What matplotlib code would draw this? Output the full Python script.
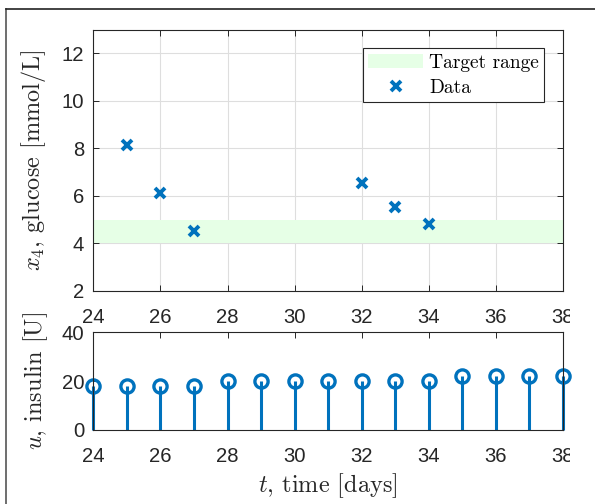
import matplotlib
matplotlib.use("Agg")
import matplotlib.pyplot as plt
from matplotlib.lines import Line2D
from matplotlib.patches import Patch
from matplotlib.transforms import Bbox, TransformedBbox

# ---- data ----
glucose_days = [25, 26, 27, 32, 33, 34]
glucose_vals = [8.15, 6.1, 4.5, 6.55, 5.55, 4.82]
target_low, target_high = 4.0, 5.0
insulin_days = [24, 25, 26, 27, 28, 29, 30, 31, 32, 33, 34, 35, 36, 37, 38]
insulin_vals = [18, 18, 18, 18, 20, 20, 20, 20, 20, 20, 20, 22, 22, 22, 22]
x_ticks = [24, 26, 28, 30, 32, 34, 36, 38]
top_yticks = [2, 4, 6, 8, 10, 12]
bot_yticks = [0, 20, 40]

plt.rcParams['mathtext.fontset'] = 'cm'
plt.rcParams['axes.unicode_minus'] = False

BLUE = '#0072BD'
TXT = '#262626'
W, H = 595, 504
fig = plt.figure(figsize=(W / 100, H / 100), dpi=100)

L, R = 93.4, 563.0

def px_axes(l, t, r, b):
    return fig.add_axes([l / W, 1 - b / H, (r - l) / W, (b - t) / H])

ax1 = px_axes(L, 29.7, R, 290.8)
ax2 = px_axes(L, 332.5, R, 429.8)

labfont = dict(family='cmr10', size=17.5)

for ax in (ax1, ax2):
    ax.set_xlim(24, 38)
    ax.set_xticks(x_ticks)
    ax.tick_params(direction='in', top=True, right=True, length=4, width=0.7,
                   colors=TXT, labelsize=14.6)
    ax.tick_params(axis='x', pad=12.4)
    ax.tick_params(axis='y', pad=6.5)
    for lab in ax.get_xticklabels() + ax.get_yticklabels():
        lab.set_fontfamily('Liberation Sans')
    for s in ax.spines.values():
        s.set_color(TXT)
        s.set_linewidth(0.8)

# top axes
ax1.set_ylim(2, 13)
ax1.set_yticks(top_yticks)
ax1.grid(True, color='#dedede', linewidth=0.8)
ax1.set_axisbelow(True)
ax1.axhspan(target_low, target_high, color='#e6ffe6', lw=0, zorder=1)
ax1.plot(glucose_days, glucose_vals, linestyle='none', marker='x', color=BLUE,
         markersize=7, markeredgewidth=2.8, zorder=3)
ax1.set_ylabel(r'$x_4$, glucose [mmol/L]', fontdict=labfont, color=TXT)
ax1.yaxis.set_label_coords(-(L - 48) / (R - L), 0.5)

handles = [Patch(facecolor='#e6ffe6', edgecolor='none', label='Target range'),
           Line2D([], [], linestyle='none', marker='x', color=BLUE, markersize=7,
                  markeredgewidth=2.8, label='Data')]
leg = ax1.legend(handles=handles, loc='upper right', prop=dict(family='cmr10', size=14),
                 fancybox=False, framealpha=1, edgecolor='#262626',
                 borderaxespad=0.96, handlelength=2.83, handletextpad=0.3,
                 borderpad=0.28, labelspacing=0.36)
leg.get_frame().set_linewidth(0.8)

# bottom axes
ax2.set_ylim(0, 40)
ax2.set_yticks(bot_yticks)
ml, sl, bl = ax2.stem(insulin_days, insulin_vals, basefmt=' ')
plt.setp(sl, color=BLUE, linewidth=2.2)
plt.setp(ml, color=BLUE, markerfacecolor='none', markersize=9.5, markeredgewidth=2.4)
ml.set_clip_on(False)
sl.set_clip_on(False)
ax2.set_ylabel(r'$u$, insulin [U]', fontdict=labfont, color=TXT)
ax2.yaxis.set_label_coords(-(L - 50) / (R - L), 0.5)
ax2.set_xlabel(r'$t$, time [days]', fontdict=labfont, color=TXT)
ax2.xaxis.set_label_coords(0.5, -(471 - 429.8) / (429.8 - 332.5))

# outer frame
fig.add_artist(Line2D([6 / W, 6 / W], [0, 1 - 8.5 / H], transform=fig.transFigure,
                      color='#555555', linewidth=1.2))
fig.add_artist(Line2D([6 / W, 1], [1 - 8.5 / H, 1 - 8.5 / H], transform=fig.transFigure,
                      color='#222222', linewidth=1.2))

fig.canvas.draw()
clip = TransformedBbox(Bbox([[0, 0], [570 / W, 1]]), fig.transFigure)
for ax in (ax1, ax2):
    for lab in ax.get_xticklabels():
        lab.set_clip_box(clip)
        lab.set_clip_on(True)

fig.savefig('out.png', dpi=100)
